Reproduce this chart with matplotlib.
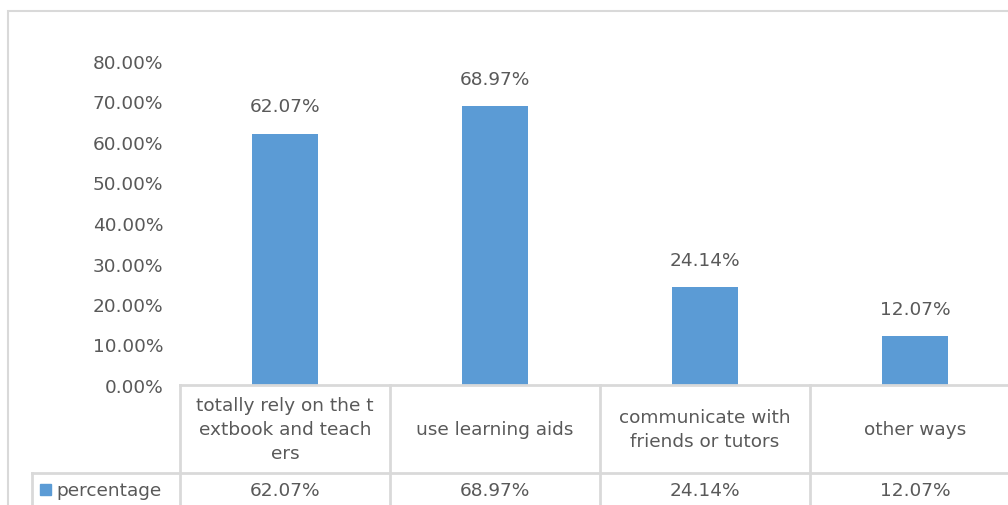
import matplotlib.pyplot as plt
from matplotlib.patches import Rectangle

categories = ['totally rely on the t\nextbook and teach\ners', 'use learning aids',
              'communicate with\nfriends or tutors', 'other ways']
values = [62.07, 68.97, 24.14, 12.07]
series_name = 'percentage'
yticks = [0, 10, 20, 30, 40, 50, 60, 70, 80]

plt.rcParams['font.family'] = ['DejaVu Sans']
txt = '#595959'
grid = '#d9d9d9'
blue = '#5b9bd5'
fs = 13.3

W, H = 1008, 506
fig = plt.figure(figsize=(W / 100, H / 100), dpi=100)

# outer chart frame
fig.patches.append(Rectangle((8 / W, -0.1), 1.2, 1 - 12 / H + 0.1, transform=fig.transFigure,
                             fill=False, edgecolor=grid, linewidth=1.5))

# plot area: x from 180 to 1020 px, y from 62 to 386 px
x0, x1, y0, y1 = 180, 1020, 386, 62
ax = fig.add_axes([x0 / W, 1 - y0 / H, (x1 - x0) / W, (y0 - y1) / H])
n = len(values)
pos = [i + 0.5 for i in range(n)]
bars = ax.bar(pos, values, width=0.315, color=blue)
ax.set_xlim(0, n)
ax.set_ylim(0, 80)
ax.set_yticks(yticks)
ax.set_yticklabels(['%.2f%%' % v for v in yticks], fontsize=fs, color=txt)
ax.tick_params(axis='y', length=0, pad=12)
ax.set_xticks([])
for s in ax.spines.values():
    s.set_visible(False)

for b, v in zip(bars, values):
    ax.text(b.get_x() + b.get_width() / 2, v + 6.7, '%.2f%%' % v, ha='center', va='center',
            fontsize=fs, color=txt)

# data table below the plot area
px = (y0 - y1) / 80.0  # pixels per data unit in y
def ypx(p):
    return (y0 - p) / px

row_mid = 474
bottom = 520
lw = 2
ax.plot([0, n + 1], [0, 0], color=grid, lw=lw, clip_on=False)
ax.plot([(32 - x0) / 210.0, n + 1], [ypx(row_mid)] * 2, color=grid, lw=lw, clip_on=False)
for i in range(n + 1):
    ax.plot([i, i], [0, ypx(bottom)], color=grid, lw=lw, clip_on=False)
ax.plot([(32 - x0) / 210.0] * 2, [ypx(row_mid), ypx(bottom)], color=grid, lw=lw, clip_on=False)

for p, c, v in zip(pos, categories, values):
    ax.text(p, ypx((y0 + row_mid) / 2), c, ha='center', va='center', fontsize=fs,
            color=txt, linespacing=1.42, clip_on=False)
    ax.text(p, ypx(491), '%.2f%%' % v, ha='center', va='center', fontsize=fs,
            color=txt, clip_on=False)

# legend key in the table's row header
ax.add_patch(Rectangle(((40 - x0) / 210.0, ypx(496)), 11 / 210.0, 11 / px, color=blue,
                       clip_on=False))
ax.text((56 - x0) / 210.0, ypx(491), series_name, ha='left', va='center', fontsize=fs,
        color=txt, clip_on=False)

fig.savefig('out.png', dpi=100)
